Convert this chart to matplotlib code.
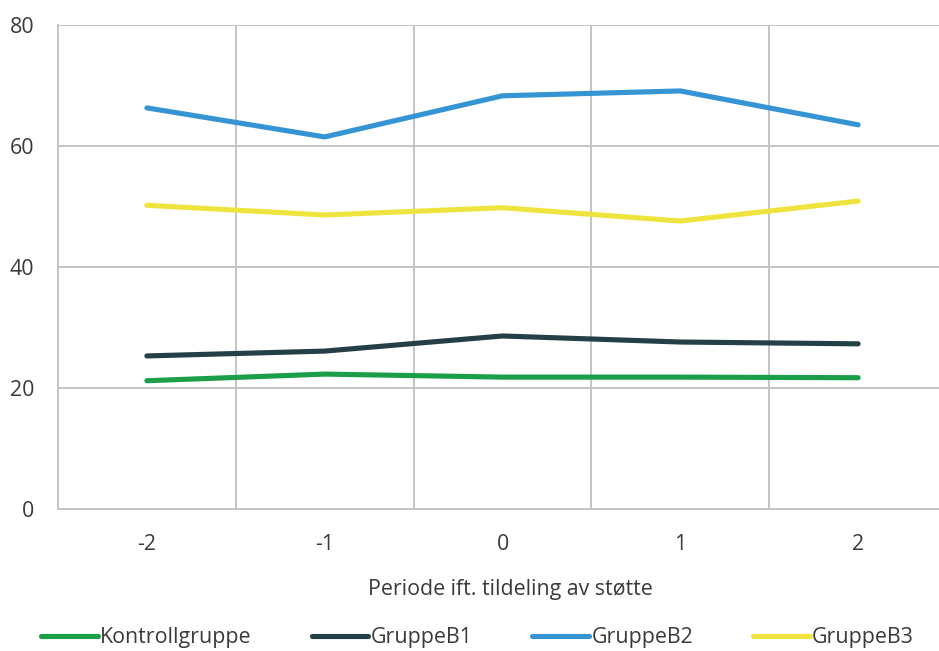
import matplotlib
matplotlib.use("Agg")
import matplotlib.pyplot as plt

plt.rcParams["font.family"] = ["Open Sans", "DejaVu Sans"]

# Data
periods = ["-2", "-1", "0", "1", "2"]
kontroll = [21.2, 22.3, 21.8, 21.8, 21.7]
gruppe_b1 = [25.3, 26.1, 28.6, 27.6, 27.3]
gruppe_b2 = [66.3, 61.5, 68.3, 69.1, 63.5]
gruppe_b3 = [50.2, 48.6, 49.8, 47.6, 50.9]

series = [
    ("Kontrollgruppe", kontroll, "#1a9e48"),
    ("GruppeB1", gruppe_b1, "#243f46"),
    ("GruppeB2", gruppe_b2, "#3595d4"),
    ("GruppeB3", gruppe_b3, "#efe43e"),
]

text_color = "#3a3a3a"
grid_color = "#c4c4c4"
fs = 15.4

fig = plt.figure(figsize=(9.39, 6.51), dpi=100)
ax = fig.add_axes([58 / 939, 1 - 509 / 651, (947 - 58) / 939, (509 - 25) / 651])

x = list(range(len(periods)))
for name, vals, col in series:
    ax.plot(x, vals, color=col, linewidth=3.7, solid_capstyle="round",
            solid_joinstyle="round", label=name, zorder=3)

ax.set_xlim(-0.5, len(periods) - 0.5)
ax.set_ylim(0, 80)
ax.set_yticks([0, 20, 40, 60, 80])
ax.set_xticks(x)
ax.set_xticklabels(periods)

# category boundaries as vertical grid lines
ax.set_xticks([i - 0.5 for i in range(len(periods) + 1)], minor=True)
ax.grid(True, which="minor", axis="x", color=grid_color, linewidth=1.4)
ax.grid(True, which="major", axis="y", color=grid_color, linewidth=1.4)
ax.set_axisbelow(True)

for side in ["top", "right"]:
    ax.spines[side].set_visible(False)
ax.spines["left"].set_color(grid_color)
ax.spines["bottom"].set_color(grid_color)
ax.spines["left"].set_linewidth(1.4)
ax.spines["bottom"].set_linewidth(1.4)

ax.tick_params(axis="both", which="both", length=0, labelsize=fs, colors=text_color)
ax.tick_params(axis="y", pad=17)
ax.tick_params(axis="x", pad=18)

ax.set_xlabel("Periode ift. tildeling av støtte", fontsize=fs, color=text_color,
              labelpad=17)
ax.xaxis.label.set_x((510 - 58) / 889)

fig.legend(loc="center", bbox_to_anchor=(477.5 / 939, 1 - 638 / 651), ncol=4,
           frameon=False, fontsize=fs, handlelength=2.66, handletextpad=0.1,
           columnspacing=2.8, labelcolor=text_color, borderaxespad=0, borderpad=0)

fig.savefig("out.png", dpi=100)
